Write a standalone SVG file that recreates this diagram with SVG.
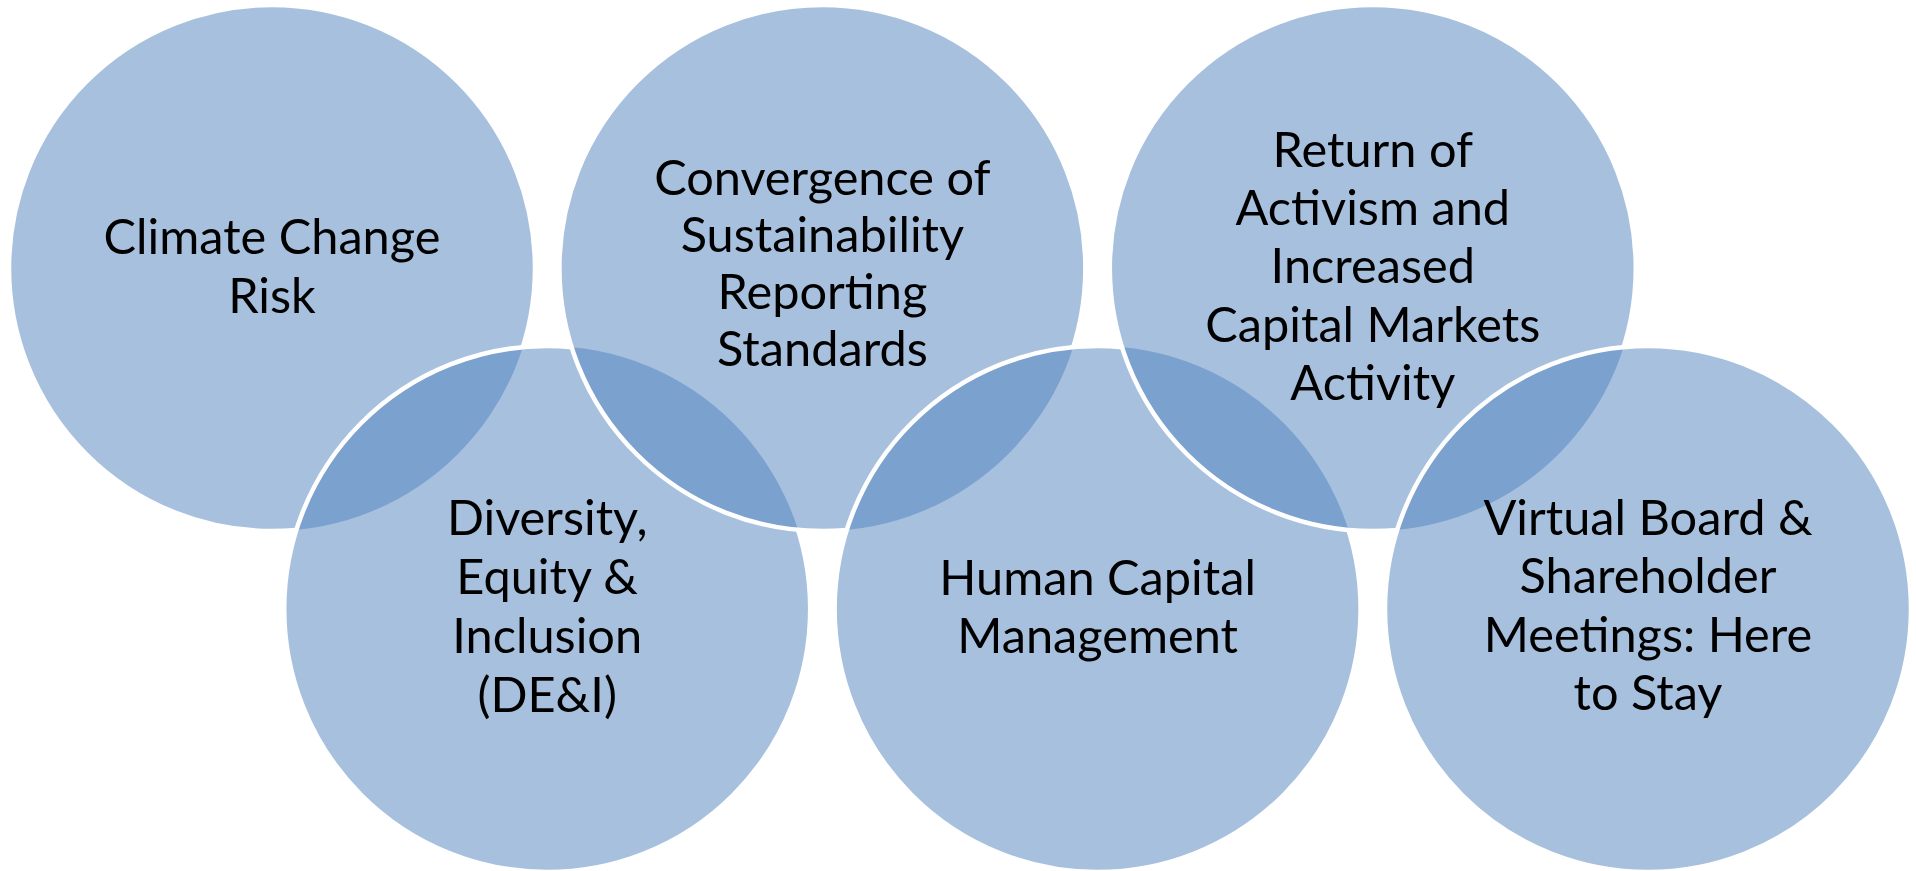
<svg xmlns="http://www.w3.org/2000/svg" width="1916" height="871" viewBox="0 0 1916 871">
<style>
.fill{fill:#4F81BD;fill-opacity:0.5;stroke:none}
.ring{fill:none;stroke:#FFFFFF;stroke-width:4.5}
.lbl{font-family:Lato,"Liberation Sans",sans-serif;font-size:48.7px;fill:#000000;text-anchor:middle}
</style>
<defs>
<mask id="m1" maskUnits="userSpaceOnUse" x="0" y="0" width="1916" height="871">
<rect x="0" y="0" width="1916" height="871" fill="#fff"/>
<circle cx="547.2" cy="609" r="263" fill="#000"/>
</mask>
<mask id="m4" maskUnits="userSpaceOnUse" x="0" y="0" width="1916" height="871">
<rect x="0" y="0" width="1916" height="871" fill="#fff"/>
<circle cx="822.4" cy="268" r="263" fill="#000"/>
</mask>
<mask id="m2" maskUnits="userSpaceOnUse" x="0" y="0" width="1916" height="871">
<rect x="0" y="0" width="1916" height="871" fill="#fff"/>
<circle cx="1097.6" cy="609" r="263" fill="#000"/>
</mask>
<mask id="m5" maskUnits="userSpaceOnUse" x="0" y="0" width="1916" height="871">
<rect x="0" y="0" width="1916" height="871" fill="#fff"/>
<circle cx="1372.8" cy="268" r="263" fill="#000"/>
</mask>
<mask id="m3" maskUnits="userSpaceOnUse" x="0" y="0" width="1916" height="871">
<rect x="0" y="0" width="1916" height="871" fill="#fff"/>
<circle cx="1648" cy="609" r="263" fill="#000"/>
</mask>
</defs>
<rect x="0" y="0" width="1916" height="871" fill="#FFFFFF"/>
<g id="node-climate">
<circle class="fill" cx="272" cy="268" r="263"/>
<circle class="ring" cx="272" cy="268" r="263" mask="url(#m1)"/>
<text class="lbl" x="272" y="254">Climate Change</text>
<text class="lbl" x="272" y="313">Risk</text>
</g>
<g id="node-dei">
<circle class="fill" cx="547.2" cy="609" r="263"/>
<circle class="ring" cx="547.2" cy="609" r="263" mask="url(#m4)"/>
<text class="lbl" x="547.2" y="535">Diversity,</text>
<text class="lbl" x="547.2" y="594">Equity &amp;</text>
<text class="lbl" x="547.2" y="653">Inclusion</text>
<text class="lbl" x="547.2" y="712">(DE&amp;I)</text>
</g>
<g id="node-convergence">
<circle class="fill" cx="822.4" cy="268" r="263"/>
<circle class="ring" cx="822.4" cy="268" r="263" mask="url(#m2)"/>
<text class="lbl" x="822.4" y="195">Convergence of</text>
<text class="lbl" x="822.4" y="252">Sustainability</text>
<text class="lbl" x="822.4" y="309">Reporting</text>
<text class="lbl" x="822.4" y="366">Standards</text>
</g>
<g id="node-human-capital">
<circle class="fill" cx="1097.6" cy="609" r="263"/>
<circle class="ring" cx="1097.6" cy="609" r="263" mask="url(#m5)"/>
<text class="lbl" x="1097.6" y="595">Human Capital</text>
<text class="lbl" x="1097.6" y="653">Management</text>
</g>
<g id="node-activism">
<circle class="fill" cx="1372.8" cy="268" r="263"/>
<circle class="ring" cx="1372.8" cy="268" r="263" mask="url(#m3)"/>
<text class="lbl" x="1372.8" y="167">Return of</text>
<text class="lbl" x="1372.8" y="225">Activism and</text>
<text class="lbl" x="1372.8" y="283">Increased</text>
<text class="lbl" x="1372.8" y="342">Capital Markets</text>
<text class="lbl" x="1372.8" y="400">Activity</text>
</g>
<g id="node-virtual">
<circle class="fill" cx="1648" cy="609" r="263"/>
<circle class="ring" cx="1648" cy="609" r="263"/>
<text class="lbl" x="1648" y="535">Virtual Board &amp;</text>
<text class="lbl" x="1648" y="593">Shareholder</text>
<text class="lbl" x="1648" y="652">Meetings: Here</text>
<text class="lbl" x="1648" y="710">to Stay</text>
</g>
<g id="connectors"></g>
</svg>
